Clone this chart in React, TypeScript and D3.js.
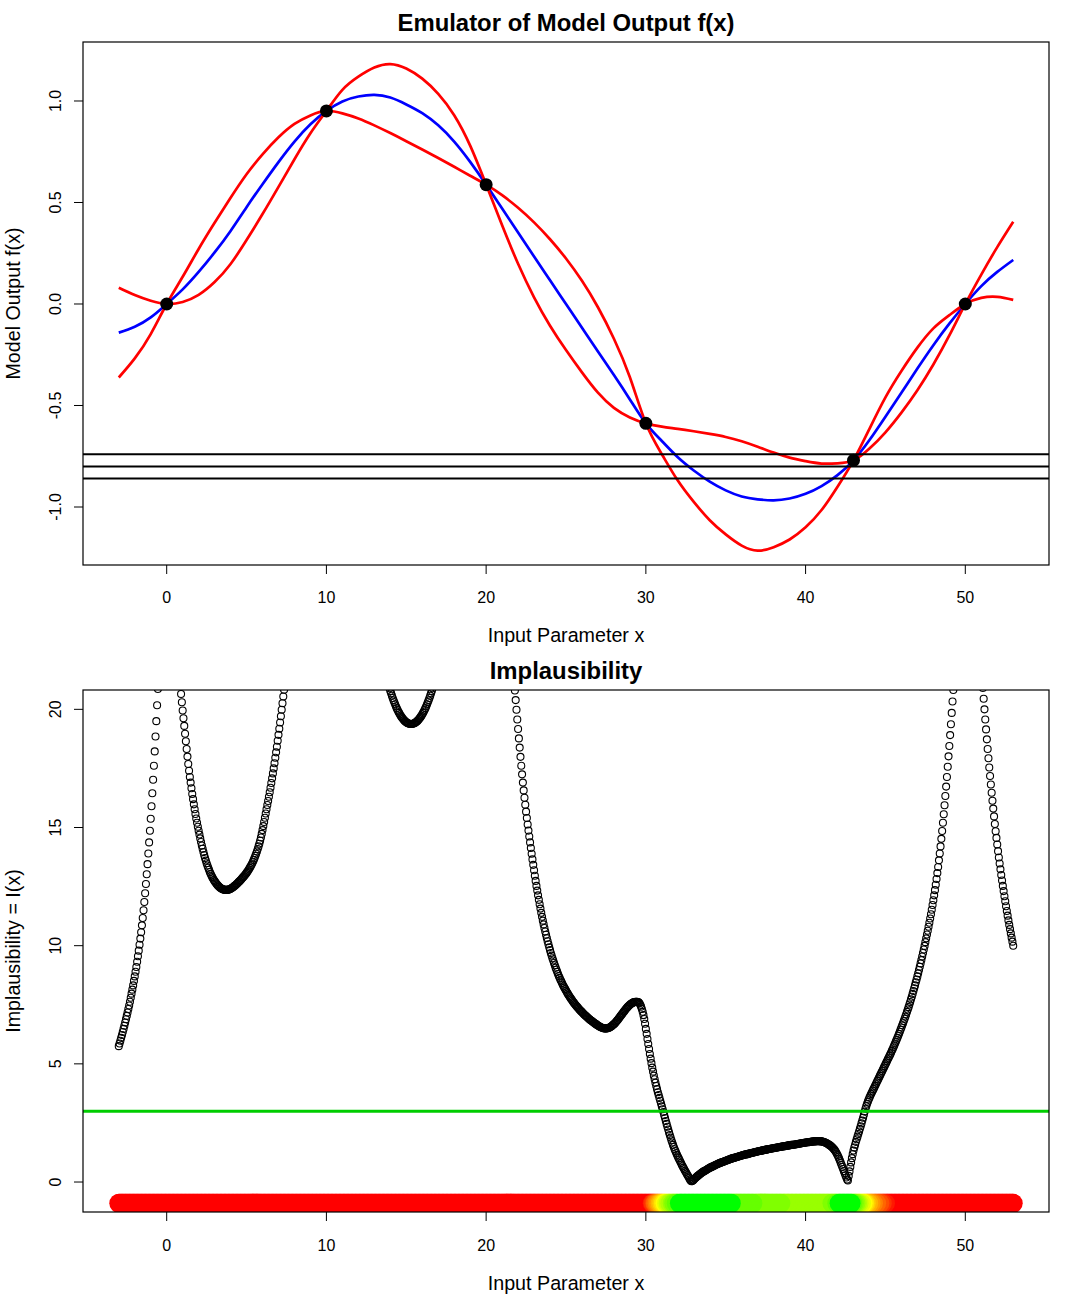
import React from "react";
import * as d3 from "d3";

// ---------------- data: top panel (emulator) ----------------
const gridX: number[] = d3.range(-3, 54); // x = -3 .. 53
// emulator expectation (blue)
const emulatorMean = [
  -0.141, -0.112, -0.066,
  0, 0.072, 0.158, 0.254, 0.36, 0.477, 0.59, 0.699, 0.8, 0.885,
  0.951, 0.998, 1.022, 1.03, 1.017, 0.983, 0.94, 0.88, 0.8, 0.7,
  0.588, 0.47, 0.352, 0.234, 0.117, 0.0, -0.117, -0.234, -0.35, -0.47,
  -0.588, -0.675, -0.755, -0.82, -0.875, -0.918, -0.948, -0.962, -0.967, -0.958,
  -0.935, -0.897, -0.843, -0.77, -0.67, -0.555, -0.437, -0.318, -0.203, -0.097,
  0, 0.088, 0.158, 0.217,
];
// red interval line that starts above the mean at x = -3
const redLineA = [
  0.08, 0.044, 0.016,
  0, 0.01, 0.045, 0.108, 0.197, 0.315, 0.443, 0.577, 0.713, 0.841,
  0.951, 1.055, 1.12, 1.165, 1.182, 1.16, 1.11, 1.035, 0.93, 0.78,
  0.588, 0.388, 0.198, 0.033, -0.107, -0.227, -0.337, -0.437, -0.512, -0.559,
  -0.588, -0.604, -0.615, -0.627, -0.64, -0.655, -0.676, -0.703, -0.732, -0.757,
  -0.774, -0.786, -0.785, -0.77, -0.712, -0.632, -0.535, -0.425, -0.298, -0.155,
  0, 0.145, 0.28, 0.405,
];
// red interval line that starts below the mean at x = -3
const redLineB = [
  -0.362, -0.268, -0.148,
  0, 0.134, 0.271, 0.4, 0.523, 0.639, 0.737, 0.821, 0.887, 0.929,
  0.951, 0.939, 0.914, 0.88, 0.842, 0.802, 0.761, 0.719, 0.676, 0.632,
  0.588, 0.536, 0.474, 0.402, 0.319, 0.224, 0.114, -0.016, -0.171, -0.361,
  -0.588, -0.74, -0.87, -0.975, -1.065, -1.135, -1.19, -1.215, -1.198, -1.16,
  -1.1, -1.015, -0.9, -0.77, -0.615, -0.46, -0.33, -0.215, -0.12, -0.055,
  0, 0.03, 0.035, 0.02,
];
const runX = [0, 10, 20, 30, 43, 50];
const runF = [0, 0.951, 0.588, -0.588, -0.77, 0];
const observedLines = [-0.74, -0.8, -0.86];

// ---------------- data: bottom panel (implausibility) ----------------
const implStep = 0.05;
const implCutoff = 3;
const bandLevel = -0.9;
// [first x, values every 0.05]
const implausibilityRows: [number, number[]][] = [
  [-3.0, [5.75, 5.86, 5.98, 6.1, 6.22, 6.35, 6.48, 6.61, 6.75, 6.89, 7.03, 7.17, 7.32, 7.47, 7.63, 7.8, 7.97, 8.14, 8.32, 8.51]],
  [-2.0, [8.7, 8.9, 9.1, 9.32, 9.55, 9.79, 10.04, 10.3, 10.57, 10.86, 11.17, 11.5, 11.85, 12.22, 12.61, 13.02, 13.45, 13.9, 14.37, 14.86]],
  [-1.0, [15.37, 15.9, 16.45, 17.02, 17.61, 18.22, 18.85, 19.5, 20.17, 20.86, 21.57]],
  [0.9, [20.65, 20.3]],
  [1.0, [19.95, 19.62, 19.3, 18.97, 18.65, 18.32, 18.0, 17.69, 17.4, 17.14, 16.9, 16.66, 16.42, 16.2, 15.98, 15.77, 15.57, 15.38, 15.2, 15.03]],
  [2.0, [14.86, 14.7, 14.54, 14.39, 14.24, 14.1, 13.96, 13.83, 13.71, 13.6, 13.49, 13.39, 13.3, 13.21, 13.12, 13.04, 12.97, 12.9, 12.84, 12.78]],
  [3.0, [12.73, 12.68, 12.63, 12.59, 12.55, 12.51, 12.48, 12.45, 12.43, 12.41, 12.39, 12.38, 12.37, 12.36, 12.36, 12.36, 12.36, 12.37, 12.38, 12.39]],
  [4.0, [12.41, 12.43, 12.45, 12.47, 12.5, 12.53, 12.56, 12.59, 12.62, 12.65, 12.69, 12.72, 12.76, 12.79, 12.83, 12.87, 12.91, 12.95, 12.99, 13.03]],
  [5.0, [13.08, 13.13, 13.18, 13.23, 13.29, 13.35, 13.41, 13.48, 13.55, 13.63, 13.71, 13.8, 13.89, 13.99, 14.09, 14.2, 14.31, 14.44, 14.58, 14.73]],
  [6.0, [14.89, 15.06, 15.23, 15.41, 15.59, 15.77, 15.95, 16.12, 16.3, 16.49, 16.68, 16.88, 17.08, 17.29, 17.5, 17.72, 17.95, 18.18, 18.42, 18.67]],
  [7.0, [18.92, 19.18, 19.44, 19.71, 19.98, 20.26, 20.54, 20.83, 21.12]],
  [13.9, [21.01, 20.89]],
  [14.0, [20.78, 20.68, 20.58, 20.48, 20.38, 20.3, 20.21, 20.13, 20.05, 19.98, 19.91, 19.85, 19.79, 19.73, 19.68, 19.63, 19.59, 19.55, 19.51, 19.48]],
  [15.0, [19.45, 19.43, 19.41, 19.4, 19.39, 19.38, 19.38, 19.38, 19.39, 19.4, 19.41, 19.43, 19.45, 19.48, 19.51, 19.55, 19.59, 19.63, 19.68, 19.73]],
  [16.0, [19.79, 19.85, 19.91, 19.98, 20.05, 20.13, 20.21, 20.3, 20.38, 20.48, 20.58, 20.68, 20.78, 20.89, 21.01]],
  [21.8, [20.8, 20.39, 19.98, 19.57]],
  [22.0, [19.17, 18.77, 18.38, 17.99, 17.61, 17.25, 16.9, 16.57, 16.26, 15.96, 15.67, 15.4, 15.13, 14.87, 14.62, 14.37, 14.13, 13.89, 13.65, 13.42]],
  [23.0, [13.19, 12.96, 12.74, 12.53, 12.33, 12.13, 11.94, 11.75, 11.57, 11.39, 11.22, 11.06, 10.9, 10.75, 10.6, 10.46, 10.32, 10.19, 10.06, 9.93]],
  [24.0, [9.81, 9.69, 9.58, 9.47, 9.37, 9.27, 9.17, 9.07, 8.98, 8.89, 8.8, 8.72, 8.64, 8.56, 8.49, 8.42, 8.35, 8.28, 8.22, 8.16]],
  [25.0, [8.1, 8.04, 7.98, 7.92, 7.87, 7.82, 7.77, 7.72, 7.67, 7.62, 7.58, 7.53, 7.49, 7.45, 7.41, 7.37, 7.33, 7.29, 7.26, 7.22]],
  [26.0, [7.19, 7.15, 7.12, 7.08, 7.05, 7.02, 6.99, 6.96, 6.93, 6.9, 6.87, 6.84, 6.82, 6.79, 6.77, 6.74, 6.72, 6.69, 6.67, 6.64]],
  [27.0, [6.62, 6.6, 6.58, 6.56, 6.55, 6.53, 6.52, 6.51, 6.5, 6.5, 6.5, 6.5, 6.51, 6.52, 6.53, 6.55, 6.57, 6.59, 6.62, 6.65]],
  [28.0, [6.68, 6.71, 6.75, 6.79, 6.83, 6.87, 6.92, 6.96, 7.01, 7.05, 7.1, 7.14, 7.19, 7.23, 7.28, 7.32, 7.36, 7.4, 7.44, 7.47]],
  [29.0, [7.5, 7.53, 7.55, 7.57, 7.59, 7.61, 7.62, 7.63, 7.63, 7.63, 7.62, 7.6, 7.56, 7.5, 7.42, 7.32, 7.2, 7.06, 6.9, 6.7]],
  [30.0, [6.48, 6.27, 6.05, 5.84, 5.63, 5.42, 5.22, 5.03, 4.84, 4.67, 4.5, 4.35, 4.2, 4.06, 3.93, 3.8, 3.68, 3.56, 3.44, 3.32]],
  [31.0, [3.2, 3.08, 2.96, 2.83, 2.71, 2.58, 2.46, 2.34, 2.22, 2.1, 1.99, 1.88, 1.77, 1.67, 1.57, 1.48, 1.39, 1.31, 1.23, 1.15]],
  [32.0, [1.08, 1.01, 0.94, 0.87, 0.8, 0.73, 0.67, 0.6, 0.54, 0.48, 0.42, 0.36, 0.3, 0.24, 0.18, 0.12, 0.07, 0.03, 0.04, 0.07]],
  [33.0, [0.1, 0.14, 0.17, 0.2, 0.23, 0.26, 0.29, 0.32, 0.34, 0.37, 0.39, 0.42, 0.44, 0.46, 0.48, 0.5, 0.52, 0.54, 0.56, 0.58]],
  [34.0, [0.6, 0.62, 0.63, 0.65, 0.67, 0.68, 0.7, 0.72, 0.73, 0.75, 0.76, 0.78, 0.79, 0.81, 0.82, 0.84, 0.85, 0.86, 0.87, 0.89]],
  [35.0, [0.9, 0.91, 0.92, 0.94, 0.95, 0.96, 0.97, 0.99, 1.0, 1.01, 1.02, 1.03, 1.04, 1.05, 1.06, 1.07, 1.08, 1.09, 1.1, 1.11]],
  [36.0, [1.12, 1.13, 1.14, 1.15, 1.16, 1.17, 1.17, 1.18, 1.19, 1.2, 1.21, 1.22, 1.23, 1.24, 1.24, 1.25, 1.26, 1.27, 1.28, 1.28]],
  [37.0, [1.29, 1.3, 1.31, 1.31, 1.32, 1.33, 1.34, 1.34, 1.35, 1.36, 1.37, 1.37, 1.38, 1.39, 1.4, 1.4, 1.41, 1.42, 1.42, 1.43]],
  [38.0, [1.43, 1.44, 1.45, 1.45, 1.46, 1.46, 1.47, 1.48, 1.48, 1.49, 1.5, 1.5, 1.51, 1.51, 1.52, 1.52, 1.53, 1.54, 1.54, 1.55]],
  [39.0, [1.56, 1.56, 1.57, 1.57, 1.58, 1.58, 1.59, 1.59, 1.6, 1.6, 1.61, 1.62, 1.62, 1.63, 1.63, 1.64, 1.65, 1.65, 1.66, 1.66]],
  [40.0, [1.67, 1.67, 1.68, 1.68, 1.69, 1.69, 1.7, 1.7, 1.71, 1.71, 1.72, 1.72, 1.72, 1.73, 1.73, 1.73, 1.73, 1.73, 1.73, 1.72]],
  [41.0, [1.72, 1.71, 1.7, 1.69, 1.68, 1.66, 1.65, 1.63, 1.61, 1.59, 1.56, 1.54, 1.51, 1.48, 1.45, 1.41, 1.37, 1.32, 1.27, 1.21]],
  [42.0, [1.14, 1.07, 0.99, 0.91, 0.82, 0.73, 0.64, 0.55, 0.46, 0.37, 0.28, 0.19, 0.11, 0.07, 0.26, 0.45, 0.64, 0.83, 1.01, 1.18]],
  [43.0, [1.33, 1.46, 1.58, 1.7, 1.81, 1.92, 2.03, 2.14, 2.25, 2.36, 2.48, 2.6, 2.72, 2.85, 2.98, 3.1, 3.21, 3.31, 3.4, 3.49]],
  [44.0, [3.57, 3.65, 3.72, 3.79, 3.86, 3.93, 4.0, 4.07, 4.14, 4.21, 4.28, 4.35, 4.42, 4.49, 4.56, 4.63, 4.7, 4.77, 4.84, 4.91]],
  [45.0, [4.98, 5.05, 5.12, 5.19, 5.26, 5.33, 5.4, 5.47, 5.55, 5.62, 5.7, 5.78, 5.86, 5.94, 6.02, 6.1, 6.19, 6.27, 6.36, 6.45]],
  [46.0, [6.54, 6.63, 6.72, 6.81, 6.91, 7.0, 7.1, 7.2, 7.3, 7.4, 7.51, 7.62, 7.73, 7.84, 7.96, 8.08, 8.2, 8.32, 8.45, 8.57]],
  [47.0, [8.7, 8.83, 8.97, 9.11, 9.25, 9.39, 9.54, 9.69, 9.84, 9.99, 10.15, 10.31, 10.47, 10.63, 10.8, 10.97, 11.15, 11.33, 11.52, 11.72]],
  [48.0, [11.92, 12.13, 12.35, 12.58, 12.82, 13.07, 13.33, 13.61, 13.9, 14.2, 14.52, 14.85, 15.2, 15.56, 15.94, 16.33, 16.73, 17.14, 17.57, 18.01]],
  [49.0, [18.45, 18.91, 19.37, 19.85, 20.33, 20.82, 21.31]],
  [51.0, [21.8, 21.35, 20.9, 20.45, 20.0, 19.57, 19.15, 18.73, 18.32, 17.93, 17.54, 17.18, 16.82, 16.47, 16.13, 15.8, 15.47, 15.15, 14.84, 14.56]],
  [52.0, [14.28, 14.0, 13.73, 13.48, 13.23, 12.99, 12.76, 12.53, 12.31, 12.09, 11.88, 11.67, 11.47, 11.27, 11.07, 10.88, 10.7, 10.52, 10.34, 10.17]],
  [53.0, [10.0]],
];

// ---------------- axes ----------------
const xTicks = [0, 10, 20, 30, 40, 50];
const topYTicks = [-1, -0.5, 0, 0.5, 1];
const bottomYTicks = [0, 5, 10, 15, 20];

const FONT = '"Liberation Sans", Arial, Helvetica, sans-serif';

const bandRamp = d3
  .scaleLinear<string>()
  .domain([0, 2.5, 5])
  .range(["#00ff00", "#ffff00", "#ff0000"])
  .interpolate(d3.interpolateRgb)
  .clamp(true);
const bandColor = (I: number) => (I < 1 ? "#00ff00" : bandRamp(Math.floor(I * 4) / 4));

export default function App() {
  const left = 83, right = 1049;
  const x = d3.scaleLinear().domain([-5.24, 55.24]).range([left, right]);
  const yTop = d3.scaleLinear().domain([-1.2857, 1.2906]).range([565, 42]);
  const yBot = d3.scaleLinear().domain([-1.268, 20.818]).range([1212, 690]);

  const mkLine = (vals: number[]) =>
    d3
      .line<number>()
      .x((_, i) => x(gridX[i]))
      .y((v) => yTop(v))
      .curve(d3.curveNatural)(vals) || "";

  const implPoints = implausibilityRows.flatMap(([x0, vals]) =>
    vals.map((v, i) => ({ x: x0 + i * implStep, I: v }))
  );
  const byKey = new Map<number, number>(
    implPoints.map((p) => [Math.round(p.x / implStep), p.I])
  );
  const bandPts = d3
    .range(Math.round(-3 / implStep), Math.round(53 / implStep) + 1)
    .map((k) => ({ x: k * implStep, I: byKey.has(k) ? (byKey.get(k) as number) : Infinity }));
  const bandSorted = bandPts.slice().sort((a, b) => d3.descending(a.I, b.I));

  const panelTop = { y0: 42, y1: 565 };
  const panelBot = { y0: 690, y1: 1212 };

  const xAxis = (yBase: number, labelY: number, titleY: number) => (
    <g>
      {xTicks.map((t) => (
        <g key={t}>
          <line x1={x(t)} x2={x(t)} y1={yBase} y2={yBase + 9} stroke="#000" strokeWidth={1} />
          <text
            x={x(t)}
            y={labelY}
            textAnchor="middle"
            dominantBaseline="central"
            fontSize={16}
            fontFamily={FONT}
          >
            {t}
          </text>
        </g>
      ))}
      <text
        x={(left + right) / 2}
        y={titleY}
        textAnchor="middle"
        dominantBaseline="central"
        fontSize={19.7}
        fontFamily={FONT}
      >
        Input Parameter x
      </text>
    </g>
  );

  const yAxis = (ticks: number[], scale: (v: number) => number, fmt: (v: number) => string) => (
    <g>
      {ticks.map((t) => (
        <g key={t}>
          <line x1={left - 9} x2={left} y1={scale(t)} y2={scale(t)} stroke="#000" strokeWidth={1} />
          <text
            transform={`translate(55,${scale(t)}) rotate(-90)`}
            textAnchor="middle"
            dominantBaseline="central"
            fontSize={16}
            fontFamily={FONT}
          >
            {fmt(t)}
          </text>
        </g>
      ))}
    </g>
  );

  return (
    <svg
      width={1080}
      height={1296}
      style={{ position: "absolute", left: 0, top: 0, background: "#fff" }}
    >
      <defs>
        <clipPath id="clipTop">
          <rect x={left} y={panelTop.y0} width={right - left} height={panelTop.y1 - panelTop.y0} />
        </clipPath>
        <clipPath id="clipBot">
          <rect x={left} y={panelBot.y0} width={right - left} height={panelBot.y1 - panelBot.y0} />
        </clipPath>
      </defs>
      <rect x={0} y={0} width={1080} height={1296} fill="#fff" />

      {/* ---------- top panel ---------- */}
      <text
        x={(left + right) / 2}
        y={22}
        textAnchor="middle"
        dominantBaseline="central"
        fontSize={23.9}
        fontWeight="bold"
        fontFamily={FONT}
      >
        Emulator of Model Output f(x)
      </text>
      <g clipPath="url(#clipTop)">
        <path d={mkLine(emulatorMean)} fill="none" stroke="#0000ff" strokeWidth={2.7} />
        <path d={mkLine(redLineA)} fill="none" stroke="#ff0000" strokeWidth={2.7} />
        <path d={mkLine(redLineB)} fill="none" stroke="#ff0000" strokeWidth={2.7} />
        {observedLines.map((v) => (
          <line key={v} x1={left} x2={right} y1={yTop(v)} y2={yTop(v)} stroke="#000" strokeWidth={2} />
        ))}
        {runX.map((rx, i) => (
          <circle key={rx} cx={x(rx)} cy={yTop(runF[i])} r={6.5} fill="#000" />
        ))}
      </g>
      <rect
        x={left}
        y={panelTop.y0}
        width={right - left}
        height={panelTop.y1 - panelTop.y0}
        fill="none"
        stroke="#000"
        strokeWidth={1.2}
      />
      {xAxis(panelTop.y1, 597, 635)}
      {yAxis(topYTicks, yTop, (v) => v.toFixed(1))}
      <text
        transform={`translate(13,${(panelTop.y0 + panelTop.y1) / 2}) rotate(-90)`}
        textAnchor="middle"
        dominantBaseline="central"
        fontSize={19.7}
        fontFamily={FONT}
      >
        Model Output f(x)
      </text>

      {/* ---------- bottom panel ---------- */}
      <text
        x={(left + right) / 2}
        y={670}
        textAnchor="middle"
        dominantBaseline="central"
        fontSize={23.9}
        fontWeight="bold"
        fontFamily={FONT}
      >
        Implausibility
      </text>
      <g clipPath="url(#clipBot)">
        {implPoints.map((p, i) => (
          <circle
            key={i}
            cx={x(p.x)}
            cy={yBot(p.I)}
            r={3.5}
            fill="none"
            stroke="#000"
            strokeWidth={1.1}
          />
        ))}
        <line
          x1={left}
          x2={right}
          y1={yBot(implCutoff)}
          y2={yBot(implCutoff)}
          stroke="#00cd00"
          strokeWidth={3}
        />
        {bandSorted.map((p, i) => (
          <circle key={"b" + i} cx={x(p.x)} cy={yBot(bandLevel)} r={9.5} fill={bandColor(p.I)} />
        ))}
      </g>
      <rect
        x={left}
        y={panelBot.y0}
        width={right - left}
        height={panelBot.y1 - panelBot.y0}
        fill="none"
        stroke="#000"
        strokeWidth={1.2}
      />
      {xAxis(panelBot.y1, 1245, 1283)}
      {yAxis(bottomYTicks, yBot, (v) => String(v))}
      <text
        transform={`translate(13,${(panelBot.y0 + panelBot.y1) / 2}) rotate(-90)`}
        textAnchor="middle"
        dominantBaseline="central"
        fontSize={19.7}
        fontFamily={FONT}
      >
        Implausibility = I(x)
      </text>
    </svg>
  );
}
